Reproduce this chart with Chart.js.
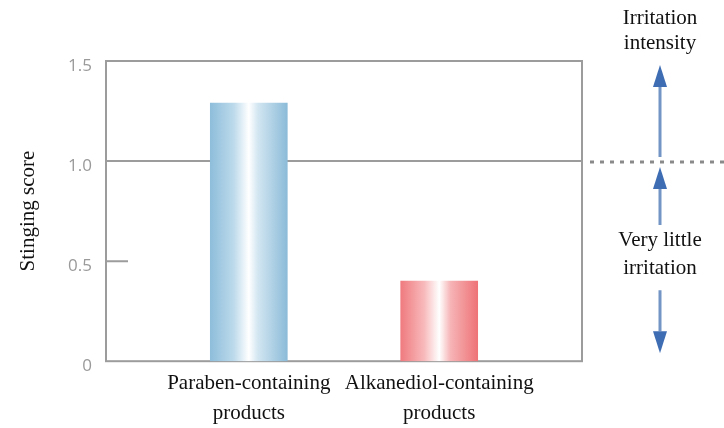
<!DOCTYPE html>
<html>
<head>
<meta charset="utf-8">
<script src="https://cdn.jsdelivr.net/npm/chart.js@4"></script>
<style>
    html, body { margin: 0; padding: 0; background: #fff; overflow: hidden; }
    #wrap { width: 724px; height: 428px; position: relative; }
</style>
</head>
<body>
<div id="wrap"><canvas id="chart"></canvas></div>
<script>
(function () {
    "use strict";

    // Data
    const products = [
        ["Paraben-containing", "products"],
        ["Alkanediol-containing", "products"],
    ];
    const scores = [1.29, 0.4];
    const yTicks = [0, 0.5, 1.0, 1.5];
    const yTitle = "Stinging score";
    const topNote = ["Irritation", "intensity"];
    const lowNote = ["Very little", "irritation"];

    // category slots: empty | product | empty | product | empty
    const labels = ["", products[0], "", products[1], ""];
    const values = [null, scores[0], null, scores[1], null];

    const serif = "'Liberation Serif', 'Times New Roman', serif";
    const gray = "#9c9c9c";

    function barGradient(ctx) {
        const chart = ctx.chart;
        if (!chart.chartArea) return null;
        const x = chart.scales.x.getPixelForValue(ctx.dataIndex);
        const g = chart.ctx.createLinearGradient(x - 38, 0, x + 38, 0);
        if (ctx.dataIndex === 1) {
            g.addColorStop(0, "#8fbedb");
            g.addColorStop(0.3, "#bcdaeb");
            g.addColorStop(0.5, "#ffffff");
            g.addColorStop(0.62, "#d2e6f1");
            g.addColorStop(1, "#8dbcd9");
        } else {
            g.addColorStop(0, "#ef7c80");
            g.addColorStop(0.3, "#f8b9bb");
            g.addColorStop(0.5, "#ffffff");
            g.addColorStop(0.65, "#f6b4b6");
            g.addColorStop(1, "#ee7478");
        }
        return g;
    }

    function arrowHead(c, x, tipY, dir) {
        c.beginPath();
        c.moveTo(x, tipY);
        c.lineTo(x - 7, tipY + dir * 22);
        c.lineTo(x + 7, tipY + dir * 22);
        c.closePath();
        c.fill();
    }

    const framePlugin = {
        id: "frame",
        beforeDatasetsDraw(chart) {
            const { ctx, chartArea: a, scales } = chart;
            const y1 = scales.y.getPixelForValue(1.0);
            const yHalf = scales.y.getPixelForValue(0.5);
            ctx.save();
            ctx.strokeStyle = gray;
            ctx.lineWidth = 2;
            ctx.strokeRect(a.left, a.top, a.right - a.left, a.bottom - a.top);
            ctx.beginPath();
            ctx.moveTo(a.left, y1);
            ctx.lineTo(a.right, y1);
            ctx.moveTo(a.left, yHalf);
            ctx.lineTo(a.left + 22, yHalf);
            ctx.stroke();
            // dotted extension
            ctx.strokeStyle = "#8a8a8a";
            ctx.lineWidth = 3;
            ctx.setLineDash([4, 6]);
            ctx.beginPath();
            ctx.moveTo(a.right + 8, y1 + 1);
            ctx.lineTo(chart.width, y1 + 1);
            ctx.stroke();
            ctx.restore();
        },
        afterDraw(chart) {
            const { ctx, scales } = chart;
            const y = scales.y;
            const ax = 660;
            ctx.save();
            ctx.strokeStyle = "#7295c6";
            ctx.fillStyle = "#3f6db3";
            ctx.lineWidth = 3;
            ctx.beginPath();
            ctx.moveTo(ax, y.getPixelForValue(1.37));
            ctx.lineTo(ax, y.getPixelForValue(1.02));
            ctx.moveTo(ax, y.getPixelForValue(0.89));
            ctx.lineTo(ax, y.getPixelForValue(0.68));
            ctx.moveTo(ax, y.getPixelForValue(0.355));
            ctx.lineTo(ax, y.getPixelForValue(0.15));
            ctx.stroke();
            arrowHead(ctx, ax, y.getPixelForValue(1.48), 1);
            arrowHead(ctx, ax, y.getPixelForValue(0.97), 1);
            arrowHead(ctx, ax, y.getPixelForValue(0.04), -1);

            ctx.fillStyle = "#111";
            ctx.font = "21px " + serif;
            ctx.textAlign = "center";
            ctx.textBaseline = "middle";
            ctx.fillText(topNote[0], ax, 18);
            ctx.fillText(topNote[1], ax, 43);
            ctx.fillText(lowNote[0], ax, y.getPixelForValue(0.605));
            ctx.fillText(lowNote[1], ax, y.getPixelForValue(0.465));
            ctx.restore();
        },
    };

    const chart = new Chart(document.getElementById("chart"), {
        type: "bar",
        data: {
            labels: labels,
            datasets: [
                {
                    data: values,
                    barThickness: 77,
                    backgroundColor: barGradient,
                    borderWidth: 0,
                },
            ],
        },
        options: {
            responsive: true,
            maintainAspectRatio: false,
            animation: false,
            layout: {
                padding: { left: 16, right: 142, top: 61, bottom: 0 },
            },
            plugins: {
                legend: { display: false },
                tooltip: { enabled: false },
            },
            scales: {
                x: {
                    grid: { display: false },
                    border: { display: false },
                    ticks: {
                        autoSkip: false,
                        maxRotation: 0,
                        color: "#111",
                        padding: 0,
                        font: { family: serif, size: 21, lineHeight: 1.4 },
                    },
                },
                y: {
                    min: 0,
                    max: 1.5,
                    afterBuildTicks: (axis) => {
                        axis.ticks = yTicks.map((v) => ({ value: v }));
                    },
                    afterFit: (axis) => {
                        axis.width = 90;
                    },
                    grid: { display: false },
                    border: { display: false },
                    ticks: {
                        color: "#9a9a9a",
                        padding: 6,
                        labelOffset: 5,
                        font: { family: "'Open Sans', sans-serif", size: 17 },
                        callback: (v) => (v === 0 ? "0" : Number(v).toFixed(1)),
                    },
                    title: {
                        display: true,
                        text: yTitle,
                        color: "#111",
                        font: { family: serif, size: 21 },
                        padding: { top: 0, bottom: 12 },
                    },
                },
            },
        },
        plugins: [framePlugin],
    });
})();
</script>
</body>
</html>
